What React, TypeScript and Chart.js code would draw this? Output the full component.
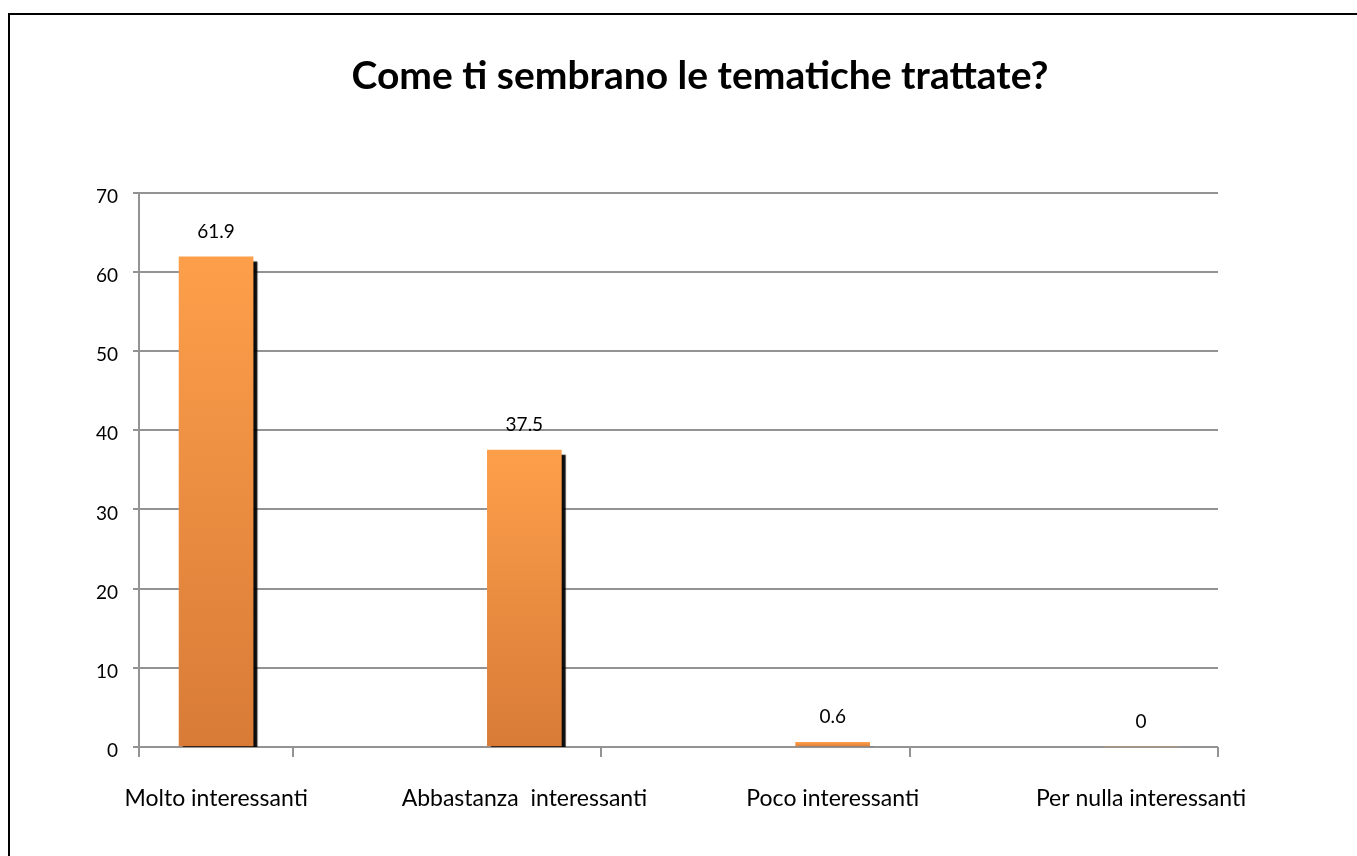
import React, { useEffect, useRef } from 'react';
import { Chart, registerables } from 'chart.js';

Chart.register(...registerables);

// ---- data ----
const chartTitle = 'Come ti sembrano le tematiche trattate?';
const categories = ['Molto interessanti', 'Abbastanza  interessanti', 'Poco interessanti', 'Per nulla interessanti'];
const values = [61.9, 37.5, 0.6, 0];
const categoryPositions = [0, 1, 2, 3];
const tickMarkPositions = [-0.25, 0.25, 1.25, 2.25, 3.25];
const yMin = 0;
const yMax = 70;
const yStep = 10;

// ---- styles ----
const FONT = 'Lato';
const gridColor = '#939393';
const barTop = '#FD9F4A';
const barBottom = '#D87B37';

const shadowPlugin = {
  id: 'barShadow',
  beforeDatasetsDraw(chart: any) {
    const ctx = chart.ctx;
    ctx.save();
    ctx.shadowColor = 'rgba(0,0,0,0.95)';
    ctx.shadowOffsetX = 4;
    ctx.shadowOffsetY = 5;
    ctx.shadowBlur = 1;
  },
  afterDatasetsDraw(chart: any) {
    chart.ctx.restore();
  },
};

const valueLabelPlugin = {
  id: 'valueLabels',
  afterDatasetsDraw(chart: any) {
    const meta = chart.getDatasetMeta(0);
    const ctx = chart.ctx;
    ctx.save();
    ctx.font = `19px ${FONT}`;
    ctx.fillStyle = '#000';
    ctx.textAlign = 'center';
    ctx.textBaseline = 'middle';
    meta.data.forEach((el: any, i: number) => {
      ctx.fillText(String(values[i]), el.x, el.y - 25);
    });
    ctx.restore();
  },
};

export default function App() {
  const ref = useRef<HTMLCanvasElement | null>(null);

  useEffect(() => {
    if (!ref.current) return;
    const chart = new Chart(ref.current, {
      type: 'bar',
      data: {
        datasets: [
          {
            data: categoryPositions.map((x, i) => ({ x, y: values[i] })),
            barThickness: 74,
            clip: 0,
            backgroundColor: (c: any) => {
              const ch = c.chart;
              const ys = ch.scales && ch.scales.y;
              if (!ys || c.dataIndex == null) return barTop;
              const top = ys.getPixelForValue(values[c.dataIndex]);
              const bottom = ys.getPixelForValue(0);
              if (!isFinite(top) || !isFinite(bottom) || bottom - top < 1) return barTop;
              const g = ch.ctx.createLinearGradient(0, top, 0, bottom);
              g.addColorStop(0, barTop);
              g.addColorStop(1, barBottom);
              return g;
            },
            borderWidth: 0,
          } as any,
        ],
      },
      options: {
        responsive: false,
        animation: false,
        layout: { padding: { left: 10, right: 0, top: 0, bottom: 0 } },
        plugins: {
          legend: { display: false },
          tooltip: { enabled: false },
          title: {
            display: true,
            text: chartTitle,
            color: '#000',
            font: { family: FONT, size: 39, weight: 'bold' },
            padding: { top: 38, bottom: 93 },
          },
        },
        scales: {
          x: {
            type: 'linear',
            position: 'bottom',
            min: -0.25,
            max: 3.25,
            offset: false,
            afterBuildTicks: (scale: any) => {
              scale.ticks = tickMarkPositions.map((v) => ({ value: v }));
            },
            ticks: {
              autoSkip: false,
              maxRotation: 0,
              minRotation: 0,
              labelOffset: -77,
              padding: 28,
              color: '#000',
              font: { family: FONT, size: 23 },
              callback: (_v: any, i: number) => (i === 0 ? '' : categories[i - 1]),
            },
            grid: {
              display: true,
              offset: false,
              drawOnChartArea: false,
              drawTicks: true,
              tickLength: 10,
              color: gridColor,
              lineWidth: 2,
            },
            border: { display: false },
            afterFit: (scale: any) => {
              scale.height = 109;
            },
          },
          y: {
            type: 'linear',
            position: 'left',
            min: yMin,
            max: yMax,
            ticks: {
              stepSize: yStep,
              padding: 15,
              labelOffset: 4,
              color: '#000',
              font: { family: FONT, size: 19 },
            },
            grid: {
              color: gridColor,
              lineWidth: 2,
              drawTicks: true,
              tickLength: 6,
            },
            border: { display: true, color: gridColor, width: 2 },
            afterFit: (scale: any) => {
              scale.width = 119;
            },
          },
          yR: {
            type: 'linear',
            position: 'right',
            display: true,
            grid: { display: false },
            ticks: { display: false },
            border: { display: false },
            afterFit: (scale: any) => {
              scale.width = 162;
            },
          },
        },
      } as any,
      plugins: [shadowPlugin, valueLabelPlugin],
    });
    return () => chart.destroy();
  }, []);

  return (
    <div
      style={{
        position: 'fixed',
        left: 0,
        top: 0,
        width: '100%',
        height: '100%',
        overflow: 'hidden',
        background: '#fff',
      }}
    >
      <div style={{ position: 'absolute', left: 8, top: 13, width: 1349, height: 2, background: '#000' }} />
      <div style={{ position: 'absolute', left: 8, top: 13, width: 2, height: 900, background: '#000' }} />
      <div style={{ position: 'absolute', left: 10, top: 15, width: 1347, height: 841, overflow: 'hidden' }}>
        <canvas ref={ref} width={1370} height={841} style={{ display: 'block', width: 1370, height: 841 }} />
      </div>
    </div>
  );
}
